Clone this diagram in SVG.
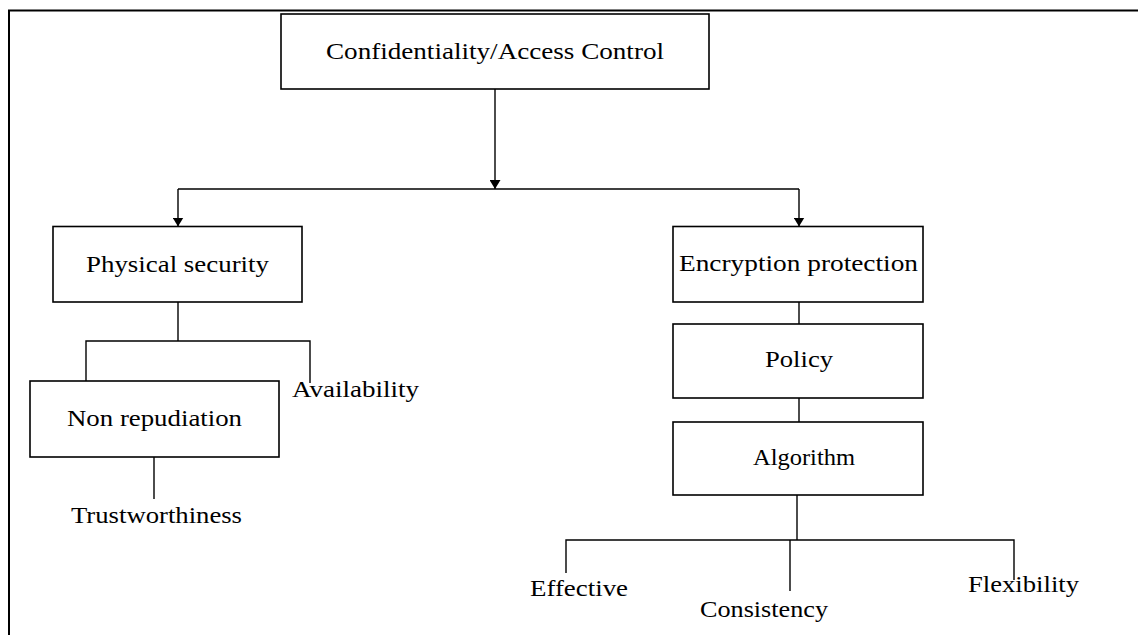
<svg xmlns="http://www.w3.org/2000/svg" width="1138" height="635" viewBox="0 0 1138 635">
  <style>
    .box { fill: #ffffff; stroke: #000000; stroke-width: 1.6; }
    .wire { fill: none; stroke: #000000; stroke-width: 1.4; }
    .label { font-family: "Liberation Serif", "Times New Roman", serif; font-size: 23px; fill: #000000; }
  </style>
  <defs>
    <marker id="arrow" viewBox="0 0 9 11" refX="9" refY="5.5" markerWidth="9" markerHeight="11" markerUnits="userSpaceOnUse" orient="auto">
      <path d="M0,0 L9,5.5 L0,11 Z" fill="#000000"/>
    </marker>
  </defs>

  <rect width="1138" height="635" fill="#ffffff"/>

  <!-- outer frame (only top and left edges fall inside the canvas) -->
  <rect x="9" y="10.5" width="1300" height="800" fill="none" stroke="#000000" stroke-width="2"/>

  <!-- connectors -->
  <g id="connectors">
    <path class="wire" d="M495,89 V189" marker-end="url(#arrow)"/>
    <path class="wire" d="M178,189 H799"/>
    <path class="wire" d="M178,189 V226.5" marker-end="url(#arrow)"/>
    <path class="wire" d="M799,189 V226.5" marker-end="url(#arrow)"/>
    <!-- physical security branch -->
    <path class="wire" d="M178,302 V341"/>
    <path class="wire" d="M86,381 V341 H310 V383"/>
    <path class="wire" d="M154,457 V499"/>
    <!-- encryption chain -->
    <path class="wire" d="M799,302 V324"/>
    <path class="wire" d="M799,398 V422"/>
    <path class="wire" d="M797,495 V540"/>
    <path class="wire" d="M566,573 V540 H1014 V580"/>
    <path class="wire" d="M790,540 V591"/>
  </g>

  <g id="node-confidentiality">
    <rect class="box" x="281" y="14" width="428" height="75"/>
    <text class="label" x="326" y="59" textLength="338" lengthAdjust="spacingAndGlyphs">Confidentiality/Access Control</text>
  </g>

  <g id="node-physical">
    <rect class="box" x="53" y="226.5" width="249" height="75.5"/>
    <text class="label" x="86" y="272" textLength="183" lengthAdjust="spacingAndGlyphs">Physical security</text>
  </g>

  <g id="node-nonrepudiation">
    <rect class="box" x="30" y="381" width="249" height="76"/>
    <text class="label" x="67" y="426" textLength="175" lengthAdjust="spacingAndGlyphs">Non repudiation</text>
  </g>

  <g id="node-availability">
    <text class="label" x="292" y="397" textLength="127" lengthAdjust="spacingAndGlyphs">Availability</text>
  </g>

  <g id="node-trustworthiness">
    <text class="label" x="71" y="523" textLength="171" lengthAdjust="spacingAndGlyphs">Trustworthiness</text>
  </g>

  <g id="node-encryption">
    <rect class="box" x="673" y="226.5" width="250" height="75.5"/>
    <text class="label" x="679" y="271" textLength="239" lengthAdjust="spacingAndGlyphs">Encryption protection</text>
  </g>

  <g id="node-policy">
    <rect class="box" x="673" y="324" width="250" height="74"/>
    <text class="label" x="765" y="367" textLength="68" lengthAdjust="spacingAndGlyphs">Policy</text>
  </g>

  <g id="node-algorithm">
    <rect class="box" x="673" y="422" width="250" height="73"/>
    <text class="label" x="753" y="465" textLength="102" lengthAdjust="spacingAndGlyphs">Algorithm</text>
  </g>

  <g id="node-effective">
    <text class="label" x="530" y="596" textLength="98" lengthAdjust="spacingAndGlyphs">Effective</text>
  </g>

  <g id="node-consistency">
    <text class="label" x="700" y="617" textLength="128" lengthAdjust="spacingAndGlyphs">Consistency</text>
  </g>

  <g id="node-flexibility">
    <text class="label" x="968" y="592" textLength="111" lengthAdjust="spacingAndGlyphs">Flexibility</text>
  </g>
</svg>
